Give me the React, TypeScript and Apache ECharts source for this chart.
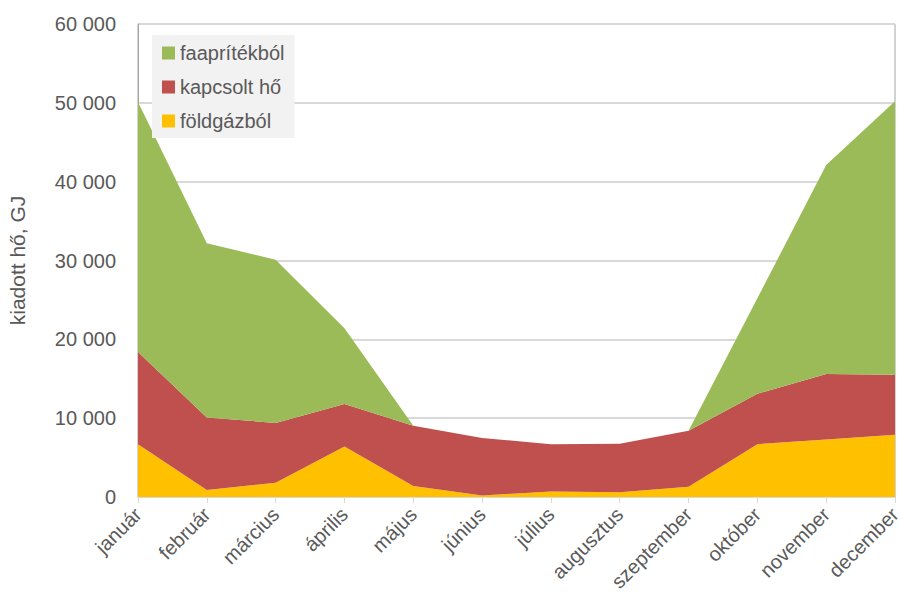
import React, { useEffect, useRef } from "react";
import * as echarts from "echarts";

const months = ["január", "február", "március", "április", "május", "június", "július", "augusztus", "szeptember", "október", "november", "december"];
const foldgaz = [6700, 900, 1800, 6400, 1400, 200, 700, 600, 1300, 6700, 7300, 7900];
const kapcsolt = [11700, 9200, 7600, 5400, 7650, 7300, 6000, 6150, 7100, 6400, 8300, 7600];
const faapritek = [31700, 22100, 20700, 9600, 0, 0, 0, 0, 0, 12100, 26500, 34700];
const yMax = 60000;
const yStep = 10000;

const fmt = (v: number) => String(v).replace(/\B(?=(\d{3})+(?!\d))/g, " ");

export default function App() {
  const ref = useRef<HTMLDivElement>(null);
  useEffect(() => {
    document.body.style.margin = "0";
    const chart = echarts.init(ref.current!, null, { renderer: "svg" });
    const font = "'Liberation Sans', Arial, sans-serif";
    const mk = (name: string, data: number[], color: string) => ({
      name,
      type: "line",
      stack: "total",
      data,
      symbol: "none",
      lineStyle: { width: 0 },
      areaStyle: { color, opacity: 1 },
      itemStyle: { color },
    });
    chart.setOption({
      animation: false,
      textStyle: { fontFamily: font },
      grid: {
        left: 138, right: 6, top: 24, bottom: 98,
        outerBoundsMode: "none", containLabel: false,
        show: true, borderColor: "#a6a6a6", borderWidth: 1,
      },
      legend: {
        orient: "vertical",
        left: 152,
        top: 35,
        backgroundColor: "#f2f2f2",
        padding: [8, 10, 7, 10],
        itemWidth: 13,
        itemHeight: 13,
        itemGap: 14,
        icon: "rect",
        textStyle: { fontSize: 20, color: "#595959", fontFamily: font },
        data: ["faaprítékból", "kapcsolt hő", "földgázból"],
      },
      xAxis: {
        type: "category",
        data: months,
        boundaryGap: false,
        axisLine: { lineStyle: { color: "#d9d9d9" } },
        axisTick: { show: true, alignWithLabel: true, lineStyle: { color: "#d9d9d9" }, length: 6 },
        axisLabel: { rotate: 45, fontSize: 20, color: "#595959", margin: 14, interval: 0, fontFamily: font },
      },
      yAxis: {
        type: "value",
        min: 0,
        max: yMax,
        interval: yStep,
        name: "kiadott hő, GJ",
        nameLocation: "middle",
        nameGap: 110,
        nameTextStyle: { fontSize: 21, color: "#595959", fontFamily: font },
        axisLine: { show: true, lineStyle: { color: "#a6a6a6" } },
        splitLine: { lineStyle: { color: "#d9d9d9", width: 2 } },
        axisLabel: { fontSize: 20, color: "#595959", margin: 22, fontFamily: font, formatter: (v: number) => fmt(v) },
      },
      series: [
        mk("földgázból", foldgaz, "#FFC000"),
        mk("kapcsolt hő", kapcsolt, "#C0504D"),
        mk("faaprítékból", faapritek, "#9BBB59"),
      ],
    });
    return () => chart.dispose();
  }, []);
  return <div ref={ref} style={{ width: 901, height: 595 }} />;
}
